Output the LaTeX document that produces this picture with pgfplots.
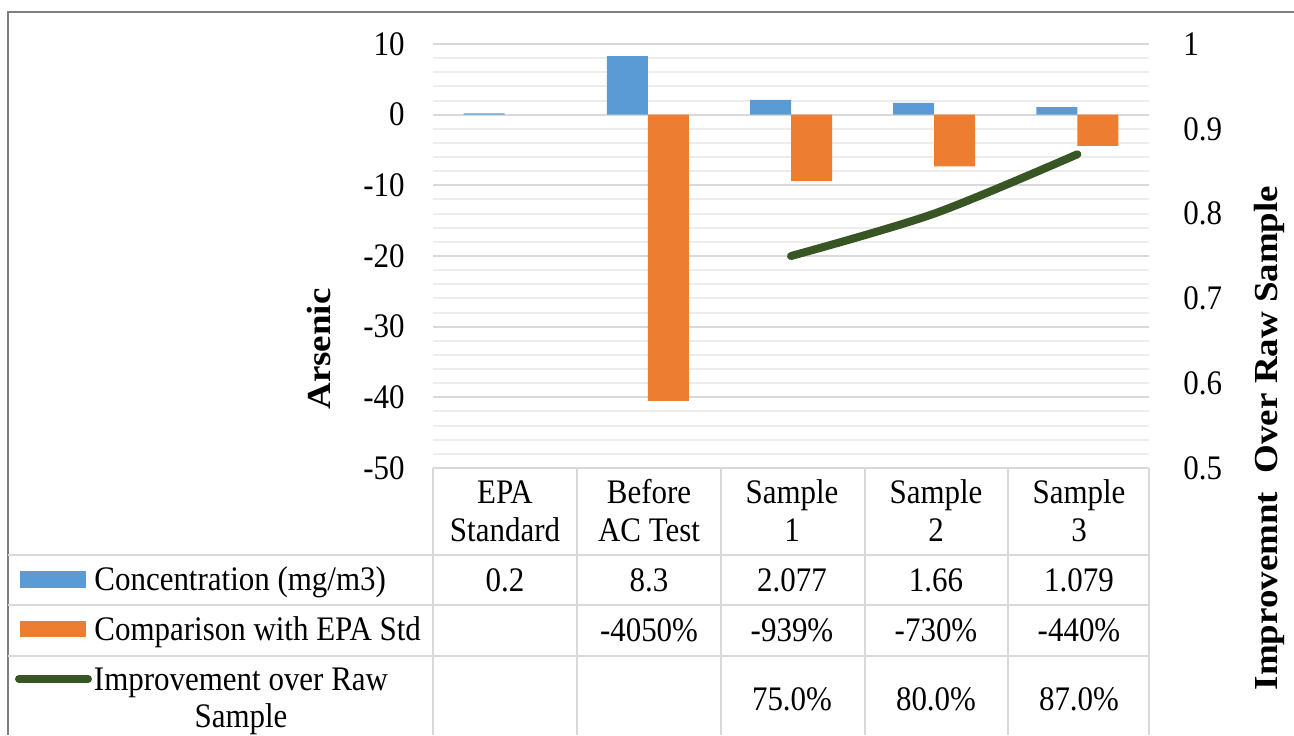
\documentclass[border=0pt]{standalone}
\usepackage{fontspec}
\setmainfont[FakeStretch=0.9]{Liberation Serif}
\newfontfamily\titlefont[FakeStretch=1.1]{Liberation Serif}
\usepackage{pgfplots}
\pgfplotsset{compat=1.18}
\definecolor{cblue}{HTML}{5B9BD5}
\definecolor{corange}{HTML}{ED7D31}
\definecolor{cgreen}{HTML}{375623}
\definecolor{gmaj}{HTML}{D9D9D9}
\definecolor{gmin}{HTML}{EDEDED}
\definecolor{bord}{HTML}{7F7F7F}
\newcommand{\tf}{\fontsize{17.2}{20}\selectfont}
\begin{document}
\begin{tikzpicture}[x=0.5pt,y=-0.5pt]
\useasboundingbox (0,0) rectangle (1294,735);
\begin{axis}[
  at={(216.5pt,-234pt)}, anchor=south west,
  scale only axis, width=358pt, height=212pt,
  xmin=-0.5, xmax=4.5, ymin=-50, ymax=10,
  xtick=\empty,
  ytick={-50,-40,...,10},
  minor y tick num=4,
  ymajorgrids, yminorgrids,
  major grid style={gmaj, line width=1pt},
  minor grid style={gmin, line width=1pt},
  axis line style={draw=none},
  major tick length=0pt, minor tick length=0pt,
  yticklabel style={font=\tf, inner sep=0pt, anchor=east, xshift=-14pt},
  /pgf/number format/assume math mode=true,
  clip=false,
]
\addplot[ybar, bar width=20.5pt, bar shift=-10.25pt, fill=cblue, draw=none]
  coordinates {(0,0.2) (1,8.3) (2,2.077) (3,1.66) (4,1.079)};
\addplot[ybar, bar width=20.5pt, bar shift=10.25pt, fill=corange, draw=none]
  coordinates {(1,-40.5) (2,-9.39) (3,-7.30) (4,-4.40)};
\end{axis}
\begin{axis}[
  at={(216.5pt,-234pt)}, anchor=south west,
  scale only axis, width=358pt, height=212pt,
  xmin=-0.5, xmax=4.5, ymin=0.5, ymax=1,
  xtick=\empty,
  ytick={0.5,0.6,...,1.0},
  axis y line*=right,
  axis x line=none,
  axis line style={draw=none},
  major tick length=0pt,
  yticklabel style={font=\tf, inner sep=0pt, anchor=west, xshift=17pt},
  /pgf/number format/assume math mode=true,
  clip=false,
]
\addplot[cgreen, line width=4pt, smooth, line cap=round]
  coordinates {(2,0.75) (3,0.80) (4,0.87)};
\end{axis}
% outer border
\draw[bord, line width=1pt] (7.5,735) -- (7.5,11.5) -- (1294,11.5);
% table lines
\begin{scope}[gmaj, line width=1pt]
\draw (433,468) -- (1149,468);
\draw (8,555) -- (1149,555);
\draw (8,605) -- (1149,605);
\draw (8,656) -- (1149,656);
\foreach \x in {433,577,721,865,1008,1149} \draw (\x,468) -- (\x,735);
\end{scope}
% legend keys
\fill[cblue] (20,571) rectangle (86,588);
\fill[corange] (20,621) rectangle (86,637);
\draw[cgreen, line width=4pt, line cap=round] (19,679) -- (88,679);
\begin{scope}[every node/.style={font=\tf, inner sep=0pt}]
\node[anchor=base west] at (94,590) {Concentration (mg/m3)};
\node[anchor=base west] at (94,640) {Comparison with EPA Std};
\node[anchor=base] at (241,690) {Improvement over Raw};
\node[anchor=base] at (241,727) {Sample};
% categories
\node[anchor=base] at (505,503) {EPA};
\node[anchor=base] at (505,541) {Standard};
\node[anchor=base] at (649,503) {Before};
\node[anchor=base] at (649,541) {AC Test};
\node[anchor=base] at (792,503) {Sample};
\node[anchor=base] at (792,541) {1};
\node[anchor=base] at (936,503) {Sample};
\node[anchor=base] at (936,541) {2};
\node[anchor=base] at (1079,503) {Sample};
\node[anchor=base] at (1079,541) {3};
% values
\node[anchor=base] at (505,591) {0.2};
\node[anchor=base] at (649,591) {8.3};
\node[anchor=base] at (792,591) {2.077};
\node[anchor=base] at (936,591) {1.66};
\node[anchor=base] at (1079,591) {1.079};
\node[anchor=base] at (649,641) {-4050\%};
\node[anchor=base] at (792,641) {-939\%};
\node[anchor=base] at (936,641) {-730\%};
\node[anchor=base] at (1079,641) {-440\%};
\node[anchor=base] at (792,710) {75.0\%};
\node[anchor=base] at (936,710) {80.0\%};
\node[anchor=base] at (1079,710) {87.0\%};
\end{scope}
% axis titles
\node[rotate=90, inner sep=0pt, font=\titlefont\bfseries\fontsize{16.8}{20}\selectfont] at (319,349) {Arsenic};
\node[rotate=90, inner sep=0pt, font=\titlefont\bfseries\fontsize{16.8}{20}\selectfont] at (1269,438) {Improvemnt\ \ Over Raw Sample};
\end{tikzpicture}
\end{document}
